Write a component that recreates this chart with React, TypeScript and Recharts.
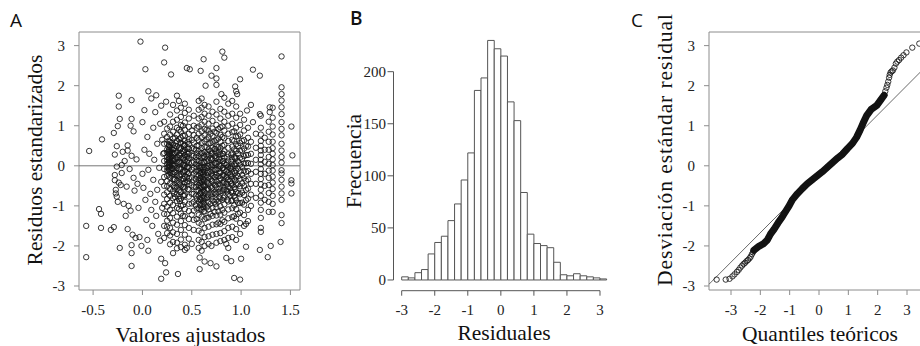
import React from 'react';
import {
  ScatterChart,
  Scatter,
  ComposedChart,
  Line,
  XAxis,
  YAxis,
  ReferenceLine,
  ReferenceArea
} from 'recharts';

// ---- A: residuos vs valores ajustados ----
const fitTicks = [-0.5, 0, 0.5, 1, 1.5];
const residTicks = [-3, -2, -1, 0, 1, 2, 3];
const fitDomain = [-0.643, 1.597];
const residDomain = [-3.1, 3.34];

// loose points (left side and outliers), [fitted, residual]
const residLoose: [number, number][] = [
  [-0.57, -1.5], [-0.57, -2.28], [-0.54, 0.37], [-0.44, -1.08], [-0.42, -1.2], [-0.42, -1.55], [-0.41, 0.66],
  [-0.32, -1.6], [-0.29, -1.53], [-0.29, 0.82], [-0.28, 0.28], [-0.28, -0.23], [-0.28, -0.36], [-0.27, -0.6],
  [-0.27, -0.69], [-0.26, -0.77], [-0.26, 0.49], [-0.26, -0.02], [-0.25, 0.99], [-0.25, -0.9], [-0.24, 1.75],
  [-0.24, 1.48], [-0.24, -0.42], [-0.23, 1.17], [-0.23, -2.05], [-0.22, -0.48], [-0.21, 0.02], [-0.21, -0.18],
  [-0.2, 0.35], [-0.19, -0.95], [-0.18, 0.12], [-0.17, -1.25], [-0.16, -0.52], [-0.15, 0.51], [-0.15, 0.38],
  [-0.15, -1.58], [-0.14, -1.0], [-0.13, -0.08], [-0.12, 1.0], [-0.12, -1.12], [-0.11, 1.17], [-0.11, 1.64],
  [-0.11, 0.25], [-0.11, -1.98], [-0.11, -2.18], [-0.11, -2.5], [-0.1, -1.72], [-0.09, 0.86], [-0.09, -0.3],
  [-0.08, -0.62], [-0.07, -1.8], [-0.06, 0.16], [-0.05, -0.45], [-0.04, -1.05], [-0.03, -1.78], [-0.02, 3.1],
  [-0.01, -2.0], [0.0, 1.09], [0.0, -0.2], [0.01, -0.55], [0.02, 1.39], [0.02, 0.4], [0.03, 2.41], [0.03, -0.85],
  [0.04, -1.35], [0.05, 0.72], [0.05, -1.85], [0.06, 1.86], [0.06, -2.12], [0.06, -0.1], [0.07, 0.3], [0.08, -0.7],
  [0.09, 1.68], [0.09, -1.1], [0.1, -1.5], [0.11, 0.95], [0.11, -0.35], [0.12, 0.15], [0.13, 1.34], [0.13, -0.9],
  [0.14, 1.76], [0.14, -1.25], [0.15, 0.55], [0.15, -0.6], [0.16, -1.7], [0.17, -0.05], [0.18, 1.05], [0.18, -1.87],
  [0.19, 1.5], [0.19, -2.32], [0.19, -2.82], [0.19, -0.4], [0.2, 0.65], [0.2, -1.05], [0.21, 0.3],
  [0.22, 2.58], [0.23, 2.95], [0.23, -2.43], [0.24, -2.66], [0.24, 1.6], [0.29, 2.28], [0.36, -2.7], [0.35, 1.75],
  [0.37, 1.62], [0.45, 2.44], [0.48, 2.41], [0.59, 2.37], [0.62, 2.66], [0.64, 2.0], [0.7, 2.25], [0.75, 2.44],
  [0.75, 2.18], [0.75, 2.02], [0.8, 1.79], [0.81, 2.85], [0.83, 2.7], [0.94, 1.98], [0.95, 1.86], [0.96, 1.79],
  [0.99, 2.16], [1.12, 2.4], [1.19, 2.25], [1.41, 2.73], [0.58, -2.58], [0.58, -2.29], [0.63, -2.39], [0.69, -2.43],
  [0.75, -2.51], [0.85, -2.3], [0.9, -2.38], [0.93, -2.8], [0.99, -2.84], [1.0, -2.32], [1.19, -2.1], [1.27, -2.28],
  [1.4, -1.9], [1.51, 0.98], [1.52, 0.26], [1.51, -0.36], [1.51, -0.44], [1.51, -0.69], [0.45, -2.05], [0.5, -1.95],
  [0.7, -2.0], [0.85, -1.95], [1.05, -2.02], [1.3, -2.0], [1.1, 1.52], [1.06, 1.38], [1.12, 1.09], [1.29, 1.46],
  [1.29, 1.34], [1.19, 1.29], [1.05, -1.45]
];

// vertical bands of fitted values (discrete predictors)
const fitColumns = [
  0.22, 0.25, 0.265, 0.28, 0.295, 0.31, 0.33, 0.35, 0.37, 0.39, 0.41, 0.43, 0.45, 0.47, 0.5, 0.52, 0.55, 0.57,
  0.585, 0.6, 0.615, 0.63, 0.65, 0.67, 0.69, 0.71, 0.73, 0.75, 0.77, 0.79, 0.81, 0.83, 0.85, 0.87, 0.89, 0.91,
  0.93, 0.95, 0.97, 0.99, 1.01, 1.03, 1.05, 1.07, 1.1, 1.15, 1.2, 1.24, 1.28, 1.32, 1.41
];
const residColumns: number[][] = [
  [1.1, 0.8, 0.55, 0.32, 0.12, -0.08, -0.28, -0.5, -0.72, -0.95, -1.2, -1.5, -1.8],
  [0.93, 0.72, 0.55, 0.41, 0.33, 0.22, 0.14, 0.05, -0.04, -0.12, -0.25, -0.38, -0.51, -0.66, -0.83, -1.02, -1.21, -1.37, -1.52, -1.68],
  [0.62, 0.47, 0.36, 0.26, 0.16, 0.07, -0.03, -0.14],
  [1.28, 0.98, 0.78, 0.6, 0.47, 0.36, 0.28, 0.18, 0.09, -0.01, -0.09, -0.17, -0.3, -0.44, -0.58, -0.75, -0.92, -1.1, -1.3, -1.55, -1.74, -1.96],
  [0.57, 0.44, 0.32, 0.23, 0.14, 0.04, -0.06, -0.18],
  [1.52, 1.1, 0.85, 0.68, 0.52, 0.4, 0.3, 0.2, 0.12, 0.03, -0.07, -0.2, -0.34, -0.49, -0.63, -0.81, -0.98, -1.18, -1.42, -1.66, -1.9, -2.18],
  [0.7, 0.5, 0.32, 0.16, 0.0, -0.17, -0.35, -0.55, -0.78],
  [1.38, 1.15, 0.95, 0.78, 0.62, 0.48, 0.33, 0.21, 0.08, -0.06, -0.22, -0.37, -0.52, -0.7, -0.88, -1.05, -1.27, -1.47, -1.7, -1.92, -2.06],
  [0.9, 0.66, 0.45, 0.27, 0.1, -0.07, -0.24, -0.42, -0.61, -0.83, -1.08],
  [1.45, 1.22, 1.02, 0.85, 0.7, 0.57, 0.44, 0.31, 0.19, 0.06, -0.08, -0.21, -0.35, -0.5, -0.66, -0.82, -1.0, -1.19, -1.38, -1.6, -1.84, -2.03],
  [1.0, 0.75, 0.55, 0.37, 0.2, 0.03, -0.14, -0.32, -0.52, -0.74, -0.98, -1.25],
  [1.55, 1.32, 1.08, 0.9, 0.75, 0.63, 0.52, 0.4, 0.27, 0.14, 0.0, -0.13, -0.27, -0.42, -0.57, -0.73, -0.9, -1.08, -1.26, -1.48, -1.72, -1.97, -2.1],
  [0.35, 0.23, 0.11, -0.02, -0.15, -0.28, -0.41],
  [1.4, 1.18, 0.97, 0.8, 0.66, 0.54, 0.42, 0.3, 0.19, 0.07, -0.05, -0.18, -0.31, -0.45, -0.6, -0.77, -0.95, -1.13, -1.33, -1.55, -1.82],
  [0.88, 0.64, 0.44, 0.26, 0.08, -0.1, -0.29, -0.49, -0.7, -0.94, -1.22],
  [1.25, 1.0, 0.77, 0.58, 0.42, 0.25, 0.1, -0.05, -0.2, -0.36, -0.53, -0.7, -0.9, -1.12, -1.35, -1.6],
  [0.95, 0.7, 0.5, 0.31, 0.14, -0.04, -0.22, -0.41, -0.61, -0.83, -1.07, -1.33],
  [1.62, 1.4, 1.18, 0.98, 0.8, 0.64, 0.5, 0.37, 0.24, 0.12, 0.0, -0.12, -0.24, -0.36, -0.48, -0.61, -0.75, -0.9, -1.06, -1.23, -1.42, -1.62, -1.85, -2.05],
  [-0.06, -0.18, -0.31, -0.43, -0.56, -0.69, -0.83, -0.98],
  [1.68, 1.45, 1.22, 1.03, 0.86, 0.71, 0.57, 0.44, 0.32, 0.2, 0.08, -0.04, -0.16, -0.28, -0.4, -0.53, -0.66, -0.8, -0.95, -1.1, -1.27, -1.46, -1.67, -1.9, -2.12],
  [-0.1, -0.22, -0.34, -0.47, -0.6, -0.74, -0.88, -1.03],
  [1.52, 1.3, 1.1, 0.92, 0.76, 0.61, 0.47, 0.34, 0.21, 0.09, -0.03, -0.15, -0.27, -0.39, -0.52, -0.66, -0.81, -0.97, -1.14, -1.33, -1.55, -1.78, -2.0],
  [0.9, 0.66, 0.46, 0.28, 0.11, -0.06, -0.23, -0.41, -0.6, -0.81, -1.04, -1.3],
  [1.48, 1.25, 1.05, 0.88, 0.72, 0.56, 0.41, 0.27, 0.13, -0.01, -0.15, -0.29, -0.43, -0.58, -0.74, -0.91, -1.09, -1.29, -1.52, -1.76, -1.95],
  [0.8, 0.57, 0.37, 0.19, 0.02, -0.15, -0.33, -0.52, -0.72, -0.95, -1.2],
  [1.35, 1.12, 0.93, 0.75, 0.6, 0.45, 0.31, 0.17, 0.03, -0.11, -0.25, -0.39, -0.54, -0.7, -0.87, -1.05, -1.25, -1.47, -1.72],
  [0.85, 0.62, 0.42, 0.24, 0.07, -0.1, -0.28, -0.47, -0.67, -0.9, -1.15],
  [1.6, 1.28, 1.02, 0.82, 0.64, 0.48, 0.33, 0.19, 0.05, -0.09, -0.23, -0.38, -0.53, -0.69, -0.86, -1.04, -1.24, -1.46, -1.7, -1.92],
  [0.92, 0.68, 0.47, 0.28, 0.1, -0.08, -0.26, -0.45, -0.66, -0.89, -1.14, -1.42],
  [1.42, 1.18, 0.96, 0.77, 0.6, 0.44, 0.29, 0.14, -0.01, -0.16, -0.31, -0.47, -0.64, -0.82, -1.01, -1.22, -1.45, -1.68, -1.88],
  [0.98, 0.72, 0.5, 0.3, 0.12, -0.06, -0.24, -0.43, -0.63, -0.85, -1.1, -1.36],
  [1.7, 1.35, 1.1, 0.88, 0.69, 0.52, 0.36, 0.2, 0.05, -0.1, -0.26, -0.42, -0.59, -0.77, -0.96, -1.17, -1.4, -1.63, -1.85],
  [0.02, -0.13, -0.28, -0.44, -0.61],
  [1.55, 1.25, 1.0, 0.8, 0.62, 0.45, 0.29, 0.13, -0.03, -0.19, -0.35, -0.52, -0.7, -0.89, -1.09, -1.31, -1.55, -1.8, -2.05],
  [-0.06, -0.22, -0.39, -0.56, -0.74],
  [1.62, 1.3, 1.05, 0.84, 0.65, 0.48, 0.32, 0.16, 0.0, -0.16, -0.32, -0.49, -0.67, -0.86, -1.06, -1.28, -1.52, -1.78],
  [0.86, 0.62, 0.41, 0.22, 0.04, -0.14, -0.33, -0.53, -0.75, -0.99, -1.26],
  [1.48, 1.2, 0.95, 0.73, 0.54, 0.37, 0.2, 0.04, -0.12, -0.29, -0.47, -0.66, -0.86, -1.08, -1.32, -1.58, -1.85],
  [0.74, 0.5, 0.3, 0.11, -0.07, -0.26, -0.46, -0.68, -0.93, -1.2],
  [1.3, 1.02, 0.78, 0.57, 0.38, 0.2, 0.03, -0.14, -0.32, -0.51, -0.71, -0.93, -1.17, -1.43, -1.7],
  [0.62, 0.38, 0.17, -0.03, -0.23, -0.44, -0.67, -0.92],
  [1.15, 0.88, 0.64, 0.43, 0.24, 0.06, -0.12, -0.31, -0.51, -0.73, -0.97, -1.23, -1.5],
  [0.5, 0.27, 0.06, -0.15, -0.37, -0.6, -0.86],
  [0.95, 0.7, 0.48, 0.27, 0.07, -0.13, -0.34, -0.57, -0.82, -1.1, -1.38],
  [0.6, 0.3, 0.05, -0.2, -0.45, -0.72, -1.0],
  [0.8, 0.45, 0.15, -0.15, -0.45, -0.8],
  [1.25, 0.95, 0.78, 0.62, 0.5, 0.38, 0.27, 0.15, 0.04, -0.08, -0.2, -0.33, -0.46, -0.6, -0.75, -0.92, -1.1, -1.3, -1.55, -1.65],
  [0.7, 0.4, 0.1, -0.2, -0.5, -0.85],
  [1.1, 0.85, 0.6, 0.4, 0.22, 0.05, -0.12, -0.3, -0.48, -0.68, -0.9, -1.15],
  [1.45, 1.2, 0.98, 0.78, 0.6, 0.44, 0.3, 0.16, 0.02, -0.12, -0.27, -0.42, -0.58, -0.75, -0.95, -1.15],
  [1.96, 1.79, 1.63, 1.46, 1.29, 1.09, 0.92, 0.76, 0.55, 0.38, 0.22, 0.08, -0.11, -0.19, -0.35, -0.52, -0.69, -0.85, -1.23, -1.43]
];

// the darkest core of the cloud, read as a second set of bands
const coreColumns = [0.27, 0.32, 0.38, 0.42, 0.46, 0.54, 0.59, 0.62, 0.66, 0.7, 0.74, 0.78, 0.82, 0.86, 0.9, 0.94];
const coreResid: number[][] = [
  [0.52, 0.4, 0.3, 0.2, 0.11, 0.02, -0.1, -0.22],
  [0.45, 0.3, 0.15, 0.0, -0.16, -0.33, -0.52, -0.7],
  [0.58, 0.41, 0.25, 0.09, -0.09, -0.27, -0.46, -0.66, -0.88],
  [0.5, 0.34, 0.18, 0.02, -0.15, -0.33, -0.53, -0.75],
  [0.6, 0.45, 0.3, 0.14, -0.03, -0.2, -0.38, -0.58],
  [0.4, 0.22, 0.04, -0.14, -0.33, -0.53, -0.75, -0.98],
  [0.3, 0.13, -0.03, -0.2, -0.37, -0.52, -0.68, -0.86, -1.08],
  [0.25, 0.1, -0.05, -0.2, -0.36, -0.5, -0.64, -0.8, -0.95, -1.14],
  [0.35, 0.18, 0.0, -0.18, -0.37, -0.57, -0.78, -1.0],
  [0.3, 0.14, -0.02, -0.19, -0.37, -0.56, -0.77],
  [0.42, 0.25, 0.08, -0.1, -0.29, -0.49, -0.71, -0.95],
  [0.35, 0.18, 0.0, -0.18, -0.37, -0.57, -0.79],
  [0.3, 0.12, -0.05, -0.23, -0.41, -0.6, -0.8],
  [0.22, 0.06, -0.1, -0.27, -0.45, -0.64, -0.85],
  [0.28, 0.1, -0.08, -0.26, -0.45, -0.65, -0.88],
  [0.18, 0.0, -0.18, -0.37, -0.58, -0.8]
];

// ---- B: histograma de residuales ----
const histBreaks = [-3, -2.8, -2.6, -2.4, -2.2, -2, -1.8, -1.6, -1.4, -1.2, -1, -0.8, -0.6, -0.4, -0.2, 0,
  0.2, 0.4, 0.6, 0.8, 1, 1.2, 1.4, 1.6, 1.8, 2, 2.2, 2.4, 2.6, 2.8, 3, 3.2];
const histCounts = [3, 2, 7, 10, 25, 36, 42, 57, 73, 96, 122, 182, 194, 230, 222, 215, 171, 153, 84, 44,
  35, 33, 31, 17, 5, 4, 6, 4, 3, 2, 1];
const histXTicks = [-3, -2, -1, 0, 1, 2, 3];
const histYTicks = [0, 50, 100, 150, 200];
const histXDomain = [-3.248, 3.448];
const histYDomain = [-10.3, 238.1];

// ---- C: QQ normal ----
const qqTicks = [-3, -2, -1, 0, 1, 2, 3];
const qqDomain = [-3.75, 3.75];
const qqIntercept = -0.2;
const qqSlope = 0.735;
const qqLowTail: [number, number][] = [
  [-3.49, -2.84], [-3.18, -2.84], [-3.05, -2.82], [-2.95, -2.76], [-2.88, -2.71], [-2.8, -2.65], [-2.74, -2.6],
  [-2.68, -2.54], [-2.62, -2.49], [-2.57, -2.45], [-2.52, -2.42], [-2.47, -2.38], [-2.42, -2.35], [-2.37, -2.31],
  [-2.33, -2.27], [-2.29, -2.21], [-2.25, -2.16]
];
const qqBand: [number, number][] = [
  [-2.22, -2.11], [-2.05, -2.01], [-1.9, -1.95], [-1.76, -1.85], [-1.65, -1.7], [-1.53, -1.58], [-1.4, -1.43],
  [-1.25, -1.27], [-1.14, -1.14], [-1.02, -1.0], [-0.91, -0.85], [-0.74, -0.7], [-0.57, -0.57], [-0.4, -0.45],
  [-0.23, -0.35], [-0.06, -0.25], [0.11, -0.15], [0.28, -0.04], [0.46, 0.08], [0.63, 0.19], [0.8, 0.29],
  [0.97, 0.43], [1.14, 0.56], [1.28, 0.71], [1.4, 0.89], [1.5, 1.06], [1.63, 1.26], [1.78, 1.41], [1.97, 1.51],
  [2.1, 1.64], [2.22, 1.76]
];
const qqHighTail: [number, number][] = [
  [2.26, 1.86], [2.3, 1.95], [2.33, 2.02], [2.36, 2.1], [2.39, 2.2], [2.41, 2.27], [2.44, 2.33], [2.48, 2.36],
  [2.52, 2.38], [2.57, 2.45], [2.62, 2.55], [2.67, 2.6], [2.73, 2.64], [2.8, 2.7], [2.88, 2.76], [2.98, 2.83],
  [3.18, 2.95], [3.42, 3.05]
];

const serif = '"Liberation Serif", "Times New Roman", serif';
const sans = '"Open Sans", "Noto Sans", sans-serif';
const boxGray = '#8c8c8c';

// serif tick labels, drawn at the position the axis hands over
const makeTick = (anchor: 'middle' | 'end', dy: string, fmt: (v: number) => string) => (p: any) => (
  <text x={p.x} y={p.y} dy={dy} textAnchor={anchor} fill="#222"
    style={{ fontFamily: serif, fontSize: 15 }}>
    {fmt(p.payload.value)}
  </text>
);
const plain = (v: number) => String(v);
const oneDecimal = (v: number) => v.toFixed(1);

const ring = (p: any) => (
  <circle cx={p.cx} cy={p.cy} r={2.7} fill="none" stroke="#151515" strokeWidth={0.85} />
);
const nothing = () => <g />;

const residPoints = [
  ...residLoose.map(([x, y]) => ({ x, y })),
  ...fitColumns.flatMap((x, i) => residColumns[i].map((y) => ({ x, y }))),
  ...coreColumns.flatMap((x, i) => coreResid[i].map((y) => ({ x, y })))
];
const histTops = histCounts.map((c, i) => ({ x: (histBreaks[i] + histBreaks[i + 1]) / 2, y: c }));
const qqPoints = [...qqLowTail, ...qqBand, ...qqHighTail].map(([x, y]) => ({ x, y }));
const qqLine = qqBand.map(([x, y]) => ({ x, y }));

const chartStyle = { fontFamily: serif };

const PanelA = () => (
  <ScatterChart width={310} height={346} margin={{ top: 32, right: 10, bottom: 0, left: 0 }} style={chartStyle}>
    <XAxis type="number" dataKey="x" domain={fitDomain} ticks={fitTicks} interval={0} allowDataOverflow
      height={56} axisLine={false} tickLine={{ stroke: boxGray }} tickSize={5} tickMargin={9}
      tick={makeTick('middle', '0.71em', oneDecimal)} />
    <YAxis type="number" dataKey="y" domain={residDomain} ticks={residTicks} interval={0} allowDataOverflow
      width={79} axisLine={false} tickLine={{ stroke: boxGray }} tickSize={5} tickMargin={9}
      tick={makeTick('end', '0.355em', plain)} />
    <ReferenceArea x1={fitDomain[0]} x2={fitDomain[1]} y1={residDomain[0]} y2={residDomain[1]}
      fill="none" stroke={boxGray} ifOverflow="visible" />
    <ReferenceLine y={0} stroke="#777" />
    <Scatter data={residPoints} shape={ring} isAnimationActive={false} />
  </ScatterChart>
);

const PanelB = () => (
  <ComposedChart width={310} height={346} margin={{ top: 32, right: 5.2, bottom: 0, left: 0 }} style={chartStyle}>
    <XAxis type="number" dataKey="x" domain={histXDomain} ticks={histXTicks} interval={0} allowDataOverflow
      height={55.3} axisLine={false} tickLine={{ stroke: '#555' }} tickSize={5} tickMargin={8.6}
      tick={makeTick('middle', '0.71em', plain)} />
    <YAxis type="number" dataKey="y" domain={histYDomain} ticks={histYTicks} interval={0} allowDataOverflow
      width={83.5} axisLine={false} tickLine={{ stroke: '#555' }} tickSize={6} tickMargin={1.5}
      tick={makeTick('end', '0.355em', plain)} />
    {histCounts.map((c, i) => (
      <ReferenceArea key={i} x1={histBreaks[i]} x2={histBreaks[i + 1]} y1={0} y2={c}
        fill="#fff" fillOpacity={1} stroke="#555" strokeWidth={1} ifOverflow="visible" />
    ))}
    <ReferenceLine segment={[{ x: histXDomain[0], y: histYTicks[0] }, { x: histXDomain[0], y: histYTicks[histYTicks.length - 1] }]}
      stroke="#555" ifOverflow="visible" />
    <ReferenceLine segment={[{ x: histXTicks[0], y: histYDomain[0] }, { x: histXTicks[histXTicks.length - 1], y: histYDomain[0] }]}
      stroke="#555" ifOverflow="visible" />
    <Scatter data={histTops} shape={nothing} isAnimationActive={false} />
  </ComposedChart>
);

const PanelC = () => (
  <ComposedChart width={320} height={346} margin={{ top: 32, right: 11, bottom: 0, left: 0 }} style={chartStyle}>
    <XAxis type="number" dataKey="x" domain={qqDomain} ticks={qqTicks} interval={0} allowDataOverflow
      height={56} axisLine={false} tickLine={{ stroke: boxGray }} tickSize={5} tickMargin={9}
      tick={makeTick('middle', '0.71em', plain)} />
    <YAxis type="number" dataKey="y" domain={residDomain} ticks={residTicks} interval={0} allowDataOverflow
      width={89} axisLine={false} tickLine={{ stroke: boxGray }} tickSize={5} tickMargin={9}
      tick={makeTick('end', '0.355em', plain)} />
    <ReferenceArea x1={qqDomain[0]} x2={qqDomain[1]} y1={residDomain[0]} y2={residDomain[1]}
      fill="none" stroke={boxGray} ifOverflow="visible" />
    <ReferenceLine
      segment={[
        { x: qqDomain[0], y: qqIntercept + qqSlope * qqDomain[0] },
        { x: qqDomain[1], y: qqIntercept + qqSlope * qqDomain[1] }
      ]}
      stroke="#444" strokeWidth={0.8} />
    <Line data={qqLine} dataKey="y" type="linear" stroke="#111" strokeWidth={7} strokeLinecap="round"
      strokeLinejoin="round" dot={false} activeDot={false} isAnimationActive={false} />
    <Scatter data={qqPoints} shape={ring} isAnimationActive={false} />
  </ComposedChart>
);

export default function App() {
  return (
    <div style={{ position: 'fixed', left: 0, top: 0, width: 920, height: 346, overflow: 'hidden', background: '#fff', fontFamily: serif }}>
      <div style={{ position: 'absolute', left: 0, top: 0 }}><PanelA /></div>
      <div style={{ position: 'absolute', left: 310, top: 0 }}><PanelB /></div>
      <div style={{ position: 'absolute', left: 620, top: 0 }}><PanelC /></div>
      <svg width={920} height={346} style={{ position: 'absolute', left: 0, top: 0, pointerEvents: 'none' }}>
        <g fontFamily={sans} fontSize={19} fill="#111">
          <text x={10} y={27}>A</text>
          <text x={350} y={25} fontWeight={600}>B</text>
          <text x={631} y={26.7}>C</text>
        </g>
        <g fontFamily={serif} fontSize={21.5} fill="#111" textAnchor="middle">
          <text x={190.5} y={341.5}>Valores ajustados</text>
          <text x={504} y={340}>Residuales</text>
          <text x={820} y={341}>Quantiles teóricos</text>
          <text transform="translate(41.5,160) rotate(-90)">Residuos estandarizados</text>
          <text transform="translate(361,161) rotate(-90)">Frecuencia</text>
          <text transform="translate(672,150) rotate(-90)" textLength={272} lengthAdjust="spacing">
            Desviación estándar residual
          </text>
        </g>
      </svg>
    </div>
  );
}
